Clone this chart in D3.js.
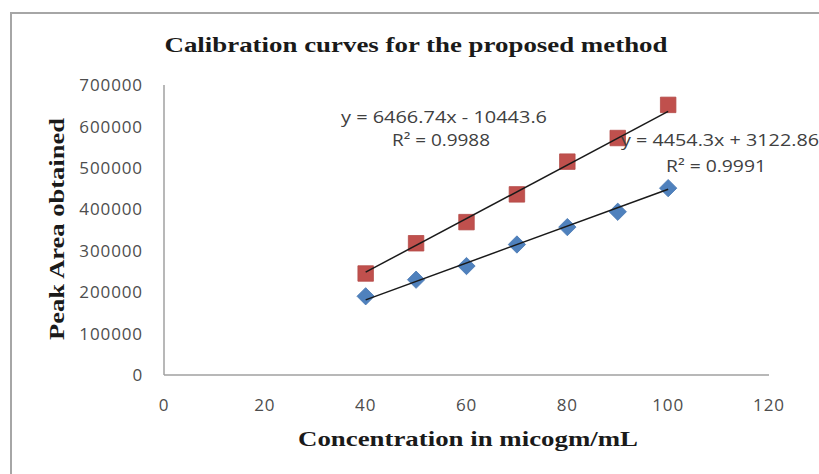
<!DOCTYPE html>
<html><head><meta charset="utf-8">
<script src="https://cdn.jsdelivr.net/npm/d3@7"></script>
<style>body{margin:0;background:#fff}</style>
</head><body>
<svg id="c" width="819" height="474"></svg>
<script>
const concentrations = [40, 50, 60, 70, 80, 90, 100];
const seriesBlue = [190000, 230000, 263000, 315000, 357000, 394000, 451000];
const seriesRed = [245000, 318000, 369000, 436000, 515000, 572000, 652000];
const fitRed = {slope: 6466.74, intercept: -10443.6, label: "y = 6466.74x - 10443.6", r2: "R² = 0.9988"};
const fitBlue = {slope: 4454.3, intercept: 3122.86, label: "y = 4454.3x + 3122.86", r2: "R² = 0.9991"};
const xTicks = [0, 20, 40, 60, 80, 100, 120];
const yTicks = [0, 100000, 200000, 300000, 400000, 500000, 600000, 700000];
const title = "Calibration curves for the proposed method";
const xTitle = "Concentration in micogm/mL";
const yTitle = "Peak Area obtained";

const svg = d3.select("#c");
const x = d3.scaleLinear().domain([0, 120]).range([164, 769]);
const y = d3.scaleLinear().domain([0, 700000]).range([375, 85]);

// outer frame
svg.append("rect").attr("x", 11).attr("y", 13).attr("width", 840).attr("height", 500)
  .attr("fill", "none").attr("stroke", "#a6a6a6").attr("stroke-width", 2);

function stretch(sel, w) { sel.attr("textLength", w).attr("lengthAdjust", "spacingAndGlyphs"); return sel; }

// axes lines
svg.append("line").attr("x1", x(0)).attr("x2", x(0)).attr("y1", y(700000)).attr("y2", y(0))
  .attr("stroke", "#a0a0a0").attr("stroke-width", 1.5);
svg.append("line").attr("x1", x(0)).attr("x2", x(120)).attr("y1", y(0)).attr("y2", y(0))
  .attr("stroke", "#a0a0a0").attr("stroke-width", 1.5);

const tickFont = "'Open Sans', sans-serif";
svg.append("g").selectAll("text").data(yTicks).join("text")
  .attr("x", 143).attr("y", d => y(d)).attr("dy", "0.36em").attr("text-anchor", "end")
  .attr("font-family", tickFont).attr("font-size", 17).attr("fill", "#4d4d4d")
  .attr("letter-spacing", 0.9)
  .text(d => d);
svg.append("g").selectAll("text").data(xTicks).join("text")
  .attr("x", d => x(d)).attr("y", 411).attr("text-anchor", "middle")
  .attr("font-family", tickFont).attr("font-size", 17).attr("fill", "#4d4d4d")
  .attr("letter-spacing", 0.9)
  .text(d => d);

// markers
svg.append("g").selectAll("path").data(concentrations).join("path")
  .attr("d", d3.symbol(d3.symbolSquare, 240)())
  .attr("transform", (d, i) => `translate(${x(d)},${y(seriesRed[i])})`)
  .attr("fill", "#C0504D").attr("stroke", "#b44a47").attr("stroke-width", 0.8);
svg.append("g").selectAll("path").data(concentrations).join("path")
  .attr("d", d3.symbol(d3.symbolSquare, 150)())
  .attr("transform", (d, i) => `translate(${x(d)},${y(seriesBlue[i])}) rotate(45)`)
  .attr("fill", "#4F81BD").attr("stroke", "#4a7ab4").attr("stroke-width", 0.8);

// trendlines
const xr = d3.extent(concentrations);
[fitRed, fitBlue].forEach(f => {
  svg.append("line")
    .attr("x1", x(xr[0])).attr("y1", y(f.slope * xr[0] + f.intercept))
    .attr("x2", x(xr[1])).attr("y2", y(f.slope * xr[1] + f.intercept))
    .attr("stroke", "#1a1a1a").attr("stroke-width", 1.5);
});

// equation labels
function eq(txt, cx, by, w) {
  stretch(svg.append("text").attr("x", cx).attr("y", by).attr("text-anchor", "middle")
    .attr("font-family", tickFont).attr("font-size", 16.5).attr("fill", "#404040").text(txt), w);
}
eq(fitRed.label, 444, 123, 206);
eq(fitRed.r2, 441, 146, 98);
eq(fitBlue.label, 720, 146, 198);
eq(fitBlue.r2, 716, 172, 100);

// titles
const serif = "'Liberation Serif', 'Times New Roman', serif";
stretch(svg.append("text").attr("x", 416).attr("y", 52).attr("text-anchor", "middle")
  .attr("font-family", serif).attr("font-weight", "bold").attr("font-size", 21).attr("fill", "#1a1a1a")
  .text(title), 503);
stretch(svg.append("text").attr("x", 468).attr("y", 446).attr("text-anchor", "middle")
  .attr("font-family", serif).attr("font-weight", "bold").attr("font-size", 22).attr("fill", "#1a1a1a")
  .text(xTitle), 340);
stretch(svg.append("text").attr("transform", "translate(64,229) rotate(-90)").attr("text-anchor", "middle")
  .attr("font-family", serif).attr("font-weight", "bold").attr("font-size", 22).attr("fill", "#1a1a1a")
  .text(yTitle), 222);
</script>
</body></html>
